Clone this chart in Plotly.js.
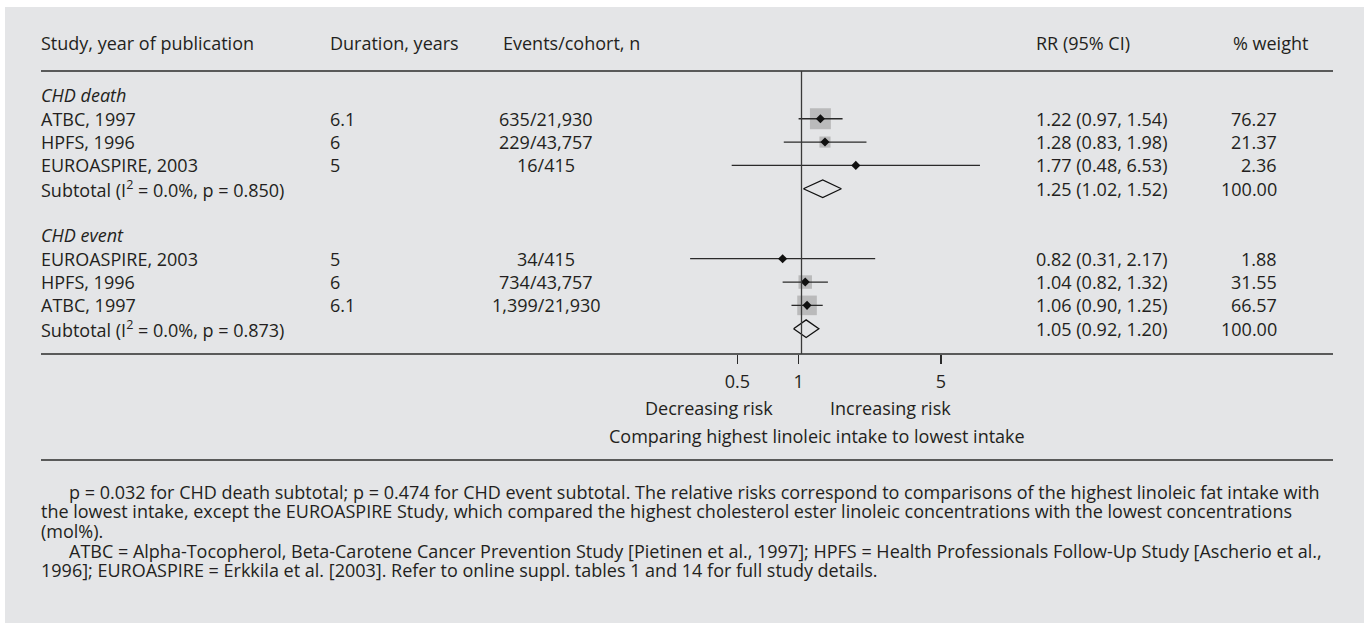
<!DOCTYPE html>
<html>
<head>
<meta charset="utf-8">
<script src="https://cdn.plot.ly/plotly-3.0.1.min.js"></script>
<style>
  body { margin: 0; background: #fff; }
</style>
</head>
<body>
<div id="forest" style="width:1370px;height:623px"></div>
<script>
// study rows, in the order they are printed
var groupNames = ["CHD death", "CHD event"];
var studyGroup = [0, 0, 0, 1, 1, 1];
var studyLabels = ["ATBC, 1997", "HPFS, 1996", "EUROASPIRE, 2003", "EUROASPIRE, 2003", "HPFS, 1996", "ATBC, 1997"];
var durations = ["6.1", "6", "5", "5", "6", "6.1"];
var eventsCohort = ["635/21,930", "229/43,757", "16/415", "34/415", "734/43,757", "1,399/21,930"];
var rr = [1.22, 1.28, 1.77, 0.82, 1.04, 1.06];
var ciLow = [0.97, 0.83, 0.48, 0.31, 0.82, 0.90];
var ciHigh = [1.54, 1.98, 6.53, 2.17, 1.32, 1.25];
var weights = [76.27, 21.37, 2.36, 1.88, 31.55, 66.57];

// pooled estimates per group
var subI2 = ["0.0%", "0.0%"];
var subP = ["0.850", "0.873"];
var subRR = [1.25, 1.05];
var subLow = [1.02, 0.92];
var subHigh = [1.52, 1.20];
var subWeight = [100, 100];

var tickVals = [0.5, 1, 5];
var tickText = ["0.5", "1", "5"];

var W = 1370, H = 623;
var rowTop = 95.4, rowStep = 23.33;
var textColor = "#231f20";
var fs = 18;
function px(x) { return x / W; }
function f2(v) { return v.toFixed(2); }

// work out which row each item sits on
var rowOf = [], subRow = [], headRow = [];
var r = 0;
groupNames.forEach(function (g, gi) {
  headRow.push(r++);
  studyGroup.forEach(function (sg, i) { if (sg === gi) rowOf[i] = r++; });
  subRow.push(r++);
  r++; // blank row between groups
});
function rowY(i) { return rowTop + i * rowStep; }

var ys = rowOf.map(rowY);

var ciX = [], ciY = [];
rr.forEach(function (v, i) {
  ciX.push(ciLow[i], ciHigh[i], null);
  ciY.push(ys[i], ys[i], null);
});

var traces = [];
traces.push({
  x: rr, y: ys, type: "scatter", mode: "markers", hoverinfo: "skip",
  marker: { symbol: "square", color: "#a8a8a8", size: weights.map(function (w) { return 2.4 * Math.sqrt(w); }), line: { width: 0 } }
});
traces.push({
  x: ciX, y: ciY, type: "scatter", mode: "lines", hoverinfo: "skip",
  line: { color: "#2a2a2a", width: 1.3 }
});
traces.push({
  x: rr, y: ys, type: "scatter", mode: "markers", hoverinfo: "skip",
  marker: { symbol: "diamond", color: "#111", size: 7 }
});
var dh = 8.8;
subRR.forEach(function (v, k) {
  var yc = rowY(subRow[k]);
  traces.push({
    x: [subLow[k], v, subHigh[k], v, subLow[k]],
    y: [yc, yc - dh, yc, yc + dh, yc],
    type: "scatter", mode: "lines", hoverinfo: "skip",
    line: { color: "#111", width: 1.3 }
  });
});
// invisible trace so the printed tick axis gets drawn
var axisY = 354;
traces.push({
  x: tickVals, y: tickVals.map(function () { return axisY; }), xaxis: "x2",
  type: "scatter", mode: "markers", hoverinfo: "skip", marker: { opacity: 0 }
});

var ann = [];
function txt(x, y, s, anchor, size) {
  anchor = anchor || "left";
  var nudge = anchor === "left" ? -2 : (anchor === "right" ? 2 : 0);
  ann.push({ xref: "paper", yref: "y", x: px(x + nudge), y: y, text: s, showarrow: false,
             xanchor: anchor, yanchor: "middle", font: { size: size || fs, color: textColor } });
}

var headY = 43;
txt(41, headY, "Study, year of publication");
txt(330, headY, "Duration, years");
txt(503, headY, "Events/cohort, n");
txt(1036, headY, "RR (95% CI)");
txt(1233, headY, "% weight");

groupNames.forEach(function (g, gi) {
  txt(41, rowY(headRow[gi]), "<i>" + g + "</i>");
});
studyLabels.forEach(function (s, i) {
  var y = ys[i];
  txt(41, y, s);
  txt(330, y, durations[i]);
  txt(546, y, eventsCohort[i], "center");
  txt(1036, y, f2(rr[i]) + " (" + f2(ciLow[i]) + ", " + f2(ciHigh[i]) + ")");
  txt(1277, y, f2(weights[i]), "right");
});
subRR.forEach(function (v, k) {
  var y = rowY(subRow[k]);
  txt(41, y, "Subtotal (I<sup>2</sup> = " + subI2[k] + ", p = " + subP[k] + ")");
  txt(1036, y, f2(v) + " (" + f2(subLow[k]) + ", " + f2(subHigh[k]) + ")");
  txt(1277, y, f2(subWeight[k]), "right");
});

txt(709, 407.7, "Decreasing risk", "center");
txt(890, 407.7, "Increasing risk", "center");
txt(817, 436, "Comparing highest linoleic intake to lowest intake", "center");

var notes = [
  [69, "p = 0.032 for CHD death subtotal; p = 0.474 for CHD event subtotal. The relative risks correspond to comparisons of the highest linoleic fat intake with"],
  [41, "the lowest intake, except the EUROASPIRE Study, which compared the highest cholesterol ester linoleic concentrations with the lowest concentrations"],
  [41, "(mol%)."],
  [69, "ATBC = Alpha-Tocopherol, Beta-Carotene Cancer Prevention Study [Pietinen et al., 1997]; HPFS = Health Professionals Follow-Up Study [Ascherio et al.,"],
  [41, "1996]; EUROASPIRE = Erkkila et al. [2003]. Refer to online suppl. tables 1 and 14 for full study details."]
];
notes.forEach(function (n, i) {
  txt(n[0], 491.7 + i * 19.6, n[1]);
});

var ruleColor = "#2b2b2b";
function hrule(y) {
  return { type: "line", xref: "paper", yref: "y", x0: px(41), x1: px(1333), y0: y, y1: y,
           line: { color: ruleColor, width: 1.5 } };
}
var shapes = [
  { type: "rect", xref: "paper", yref: "y", x0: px(5), x1: px(1364), y0: 7, y1: H,
    fillcolor: "#e4e5e7", line: { width: 0 }, layer: "below" },
  hrule(71), hrule(axisY), hrule(460),
  { type: "line", xref: "x", yref: "y", x0: 1, x1: 1, y0: 71, y1: axisY,
    line: { color: "#3a3a3a", width: 1.3 } }
];

// data scale: 1 sits at 801.5 px, 219 px per decade
var dataRange = [(0 - 801.5) / 219, (W - 801.5) / 219];
// the printed tick labels use a slightly different spacing in the original
var tickRange = [(0 - 798.7) / 203.6, (W - 798.7) / 203.6];

var layout = {
  width: W, height: H,
  margin: { l: 0, r: 0, t: 0, b: 0 },
  paper_bgcolor: "#ffffff", plot_bgcolor: "rgba(0,0,0,0)",
  showlegend: false,
  font: { family: "Open Sans, sans-serif", size: fs, color: textColor },
  xaxis: { type: "log", range: dataRange, visible: false, fixedrange: true },
  xaxis2: {
    type: "log", range: tickRange, overlaying: "x", anchor: "free",
    position: 1 - axisY / H, side: "bottom",
    showline: false, showgrid: false, zeroline: false,
    ticks: "outside", ticklen: 9, tickwidth: 1.3, tickcolor: ruleColor,
    tickvals: tickVals, ticktext: tickText, ticklabelstandoff: 2,
    tickfont: { size: fs, color: textColor }
  },
  yaxis: { range: [H, 0], visible: false, fixedrange: true },
  shapes: shapes,
  annotations: ann
};

Plotly.newPlot(document.getElementById("forest"), traces, layout, { displayModeBar: false, staticPlot: true });
</script>
</body>
</html>
